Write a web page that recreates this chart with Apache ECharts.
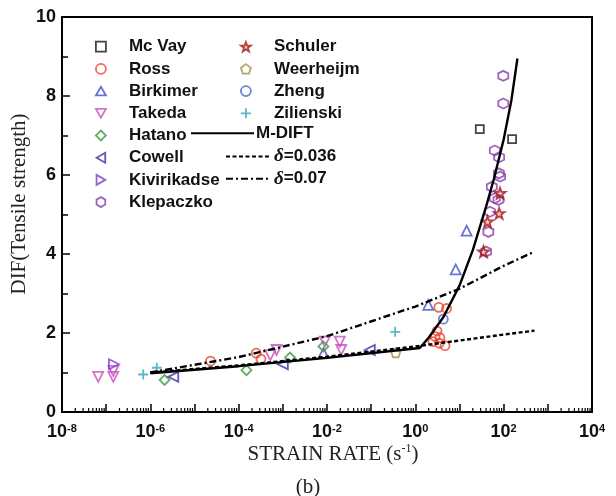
<!DOCTYPE html>
<html>
<head>
<meta charset="utf-8">
<script src="https://cdn.jsdelivr.net/npm/echarts@6/dist/echarts.min.js"></script>
<style>
  html, body { margin: 0; padding: 0; background: #ffffff; }
  #chart { width: 616px; height: 496px; }
</style>
</head>
<body>
<div id="chart"></div>
<script>
// Dynamic increase factor of tensile strength versus strain rate (s^-1)

// --- test data: strain rate (1/s) and DIF ---
const mcVayRate = [28.8, 155];
const mcVayDif = [7.16, 6.91];

const rossRate = [2.3e-5, 2.5e-4, 3.2e-4, 3.4, 5.1, 3.1, 2.8, 3.6, 2.5, 3.5, 4.7];
const rossDif = [1.29, 1.49, 1.34, 2.65, 2.62, 2.05, 1.91, 1.88, 1.78, 1.74, 1.68];

const birkimerRate = [14.5, 8.2, 1.96, 8.3e-3];
const birkimerDif = [4.59, 3.61, 2.71, 1.49];

const takedaRate = [6.6e-8, 1.45e-7, 1.45e-7, 7.2e-4, 5.2e-4, 8.9e-3, 1.95e-2, 2.1e-2];
const takedaDif = [0.89, 0.89, 1.04, 1.57, 1.44, 1.78, 1.78, 1.57];

const hatanoRate = [2.1e-6, 1.5e-4, 1.45e-3, 8.3e-3];
const hatanoDif = [0.81, 1.06, 1.38, 1.66];

const cowellRate = [3.3e-6, 1.0e-3, 9.3e-2];
const cowellDif = [0.89, 1.21, 1.57];

const kivirikadseRate = [1.5e-7];
const kivirikadseDif = [1.21];

const klepaczkoRate = [98, 98, 63, 79, 78, 83, 54, 63, 49, 76, 45, 40];
const klepaczkoDif = [8.51, 7.81, 6.62, 6.45, 6.04, 5.96, 5.70, 5.41, 5.07, 5.37, 4.56, 4.06];

const schulerRate = [83, 79, 43, 35];
const schulerDif = [5.54, 5.03, 4.82, 4.06];

const weerheijmRate = [0.36];
const weerheijmDif = [1.50];

const zhengRate = [4.3];
const zhengDif = [2.35];

const zilienskiRate = [6.9e-7, 1.4e-6, 0.35];
const zilienskiDif = [0.95, 1.12, 2.03];

// --- model curves ---
const mdiftRate = [1e-6, 1e-4, 1e-2, 1.26, 2, 4.3, 10, 20, 40, 60, 100, 150, 205];
const mdiftDif = [0.98, 1.16, 1.37, 1.62, 1.88, 2.40, 3.20, 4.10, 5.20, 5.90, 6.90, 7.90, 8.95];

const delta036Rate = [1e-6, 1e-4, 1e-2, 1, 100, 500];
const delta036Dif = [1.00, 1.18, 1.40, 1.66, 1.96, 2.06];

const delta07Rate = [1e-6, 1e-4, 1e-2, 1, 10, 100, 500];
const delta07Dif = [1.00, 1.39, 1.92, 2.67, 3.12, 3.70, 4.06];

// --- axis ticks ---
const xLabelExponents = [-8, -6, -4, -2, 0, 2, 4];
const yTickLabels = ['0', '2', '4', '6', '8', '10'];

const SANS = '"Liberation Sans", Arial, sans-serif';
const SERIF = '"Liberation Serif", "Times New Roman", serif';

function pairs(xs, ys) { return xs.map((x, i) => [x, ys[i]]); }

// log-distributed minor ticks (2..9 within each decade) on the strain-rate axis
const minorTickValues = [];
for (let e = -8; e < 4; e++) {
  for (let m = 2; m <= 9; m++) minorTickValues.push([m * Math.pow(10, e), 0]);
}

// marker outlines
const TRI_UP = 'path://M0,-8.66 L10,8.66 L-10,8.66 Z';
const TRI_DOWN = 'path://M-10,-8.66 L10,-8.66 L0,8.66 Z';
const TRI_LEFT = 'path://M-8.66,0 L8.66,-10 L8.66,10 Z';
const TRI_RIGHT = 'path://M8.66,0 L-8.66,-10 L-8.66,10 Z';
const HEX = 'path://M0,-10 L8.66,-5 L8.66,5 L0,10 L-8.66,5 L-8.66,-5 Z';
const PENT = 'path://M0,-10 L9.51,-3.09 L5.88,8.09 L-5.88,8.09 L-9.51,-3.09 Z';
const STAR = 'path://M0,-10 L2.35,-3.24 L9.51,-3.09 L3.8,1.24 L5.88,8.09 L0,4 L-5.88,8.09 L-3.8,1.24 L-9.51,-3.09 L-2.35,-3.24 Z';
const PLUS = 'path://M0,-10 L0,10 M-10,0 L10,0';

function scatter(name, xs, ys, color, symbol, opts) {
  opts = opts || {};
  return {
    name: name,
    type: 'scatter',
    data: pairs(xs, ys),
    symbol: symbol,
    symbolSize: opts.size || 9,
    itemStyle: {
      color: opts.fill || 'transparent',
      borderColor: color,
      borderWidth: opts.bw || 1.8
    },
    z: 3
  };
}

function curve(name, xs, ys, type, width) {
  return {
    name: name,
    type: 'line',
    data: pairs(xs, ys),
    symbol: 'none',
    smooth: false,
    lineStyle: { color: '#000', width: width, type: type },
    itemStyle: { color: 'transparent', borderColor: 'transparent', borderWidth: 0, opacity: 0 },
    z: 5
  };
}

const series = [
  scatter('Mc Vay', mcVayRate, mcVayDif, '#151515', 'rect', { size: 8 }),
  scatter('Ross', rossRate, rossDif, '#e8452c', 'circle'),
  scatter('Birkimer', birkimerRate, birkimerDif, '#4454c6', TRI_UP, { size: 10 }),
  scatter('Takeda', takedaRate, takedaDif, '#c94dbd', TRI_DOWN, { size: 10 }),
  scatter('Hatano', hatanoRate, hatanoDif, '#3d9b3d', 'diamond', { size: 10 }),
  scatter('Cowell', cowellRate, cowellDif, '#3a2fa6', TRI_LEFT, { size: 10 }),
  scatter('Kivirikadse', kivirikadseRate, kivirikadseDif, '#7a40c8', TRI_RIGHT, { size: 10 }),
  scatter('Klepaczko', klepaczkoRate, klepaczkoDif, '#8a3fae', HEX, { size: 10 }),
  scatter('Schuler', schulerRate, schulerDif, '#a3161a', STAR, { size: 11, fill: 'rgba(200,70,40,0.35)' }),
  scatter('Weerheijm', weerheijmRate, weerheijmDif, '#a09048', PENT, { size: 9 }),
  scatter('Zheng', zhengRate, zhengDif, '#4a62c8', 'circle', { size: 9 }),
  scatter('Zilienski', zilienskiRate, zilienskiDif, '#2fa8b8', PLUS, { size: 10 }),
  curve('M-DIFT', mdiftRate, mdiftDif, 'solid', 2.4),
  curve('δ=0.036', delta036Rate, delta036Dif, [4, 2.5], 2.4),
  curve('δ=0.07', delta07Rate, delta07Dif, [7, 3, 2, 3], 2.4),
  {
    name: 'minor ticks',
    type: 'custom',
    data: minorTickValues,
    silent: true,
    clip: false,
    z: 6,
    renderItem: function (params, api) {
      const p = api.coord([api.value(0), 0]);
      return {
        type: 'line',
        shape: { x1: p[0], y1: p[1], x2: p[0], y2: p[1] - 4 },
        style: { stroke: '#000', lineWidth: 1.2 }
      };
    }
  }
];

const legendText = {
  color: '#111',
  fontFamily: SANS,
  fontWeight: 'bold',
  fontSize: 17,
  lineHeight: 22,
  padding: [0, 0, 0, 18]
};

const chart = echarts.init(document.getElementById('chart'), null, { renderer: 'canvas' });
chart.setOption({
  animation: false,
  backgroundColor: '#ffffff',
  grid: {
    left: 62, right: 24, top: 17, bottom: 84,
    show: true, borderColor: '#000', borderWidth: 2, backgroundColor: 'transparent'
  },
  title: {
    text: '(b)', left: 'center', top: 472,
    textStyle: { fontFamily: SERIF, fontSize: 21, fontWeight: 'normal', color: '#222' }
  },
  legend: [
    {
      data: ['Mc Vay', 'Ross', 'Birkimer', 'Takeda', 'Hatano', 'Cowell', 'Kivirikadse', 'Klepaczko'],
      orient: 'vertical', left: 95, top: 35.7, padding: 0, itemGap: 0.2,
      itemWidth: 10, itemHeight: 10, selectedMode: false,
      itemStyle: { borderWidth: 1.8 },
      textStyle: legendText
    },
    {
      data: ['Schuler', 'Weerheijm', 'Zheng', 'Zilienski'],
      orient: 'vertical', left: 240, top: 35.7, padding: 0, itemGap: 0.2,
      itemWidth: 10, itemHeight: 10, selectedMode: false,
      itemStyle: { borderWidth: 1.8 },
      textStyle: legendText
    },
    {
      data: ['M-DIFT'],
      orient: 'vertical', left: 190, top: 122.3, padding: 0, itemGap: 0.2,
      itemWidth: 63, itemHeight: 14, selectedMode: false,
      itemStyle: { opacity: 0, borderWidth: 0 },
      lineStyle: { color: '#000', opacity: 1 },
      textStyle: Object.assign({}, legendText, { padding: [0, 0, 0, -3] })
    },
    {
      data: ['δ=0.036', 'δ=0.07'],
      orient: 'vertical', left: 225, top: 145.5, padding: 0, itemGap: 0.2,
      itemWidth: 43, itemHeight: 14, selectedMode: false,
      itemStyle: { opacity: 0, borderWidth: 0 },
      lineStyle: { color: '#000', opacity: 1 },
      formatter: function (name) { return '{i|δ}' + name.slice(1); },
      textStyle: Object.assign({}, legendText, {
        padding: [0, 0, 0, 0],
        rich: {
          i: { fontFamily: SERIF, fontStyle: 'italic', fontWeight: 'bold', fontSize: 19, color: '#111', lineHeight: 22 }
        }
      })
    }
  ],
  xAxis: {
    type: 'log',
    logBase: 10,
    min: 1e-8,
    max: 1e4,
    splitNumber: 12,
    interval: 1,
    axisLine: { show: true, lineStyle: { color: '#000', width: 2 } },
    axisTick: { show: true, inside: true, length: 8, lineStyle: { color: '#000', width: 1.5 } },
    minorTick: { show: false },
    splitLine: { show: false },
    axisLabel: {
      margin: 11,
      showMinLabel: true,
      showMaxLabel: true,
      formatter: function (v) {
        const e = Math.round(Math.log10(v));
        if (xLabelExponents.indexOf(e) < 0) return '';
        return '{b|10}{s|' + e + '}';
      },
      rich: {
        b: { fontFamily: SANS, fontWeight: 'bold', fontSize: 18, color: '#111', lineHeight: 18 },
        s: { fontFamily: SANS, fontWeight: 'bold', fontSize: 11, color: '#111', verticalAlign: 'top', lineHeight: 18, padding: [0, 0, 6, 0] }
      }
    }
  },
  yAxis: {
    type: 'value',
    min: 0,
    max: 10,
    interval: 2,
    axisLine: { show: true, lineStyle: { color: '#000', width: 2 } },
    axisTick: { show: true, inside: true, length: 8, lineStyle: { color: '#000', width: 1.5 } },
    minorTick: { show: true, splitNumber: 2, length: 6, lineStyle: { color: '#000', width: 1.5 } },
    splitLine: { show: false },
    axisLabel: {
      margin: 6,
      fontFamily: SANS, fontWeight: 'bold', fontSize: 18, color: '#111',
      formatter: function (v) { return yTickLabels[Math.round(v / 2)]; }
    }
  },
  graphic: [
    {
      type: 'text',
      x: 19, y: 204, rotation: Math.PI / 2,
      style: {
        text: 'DIF(Tensile strength)',
        font: '21px ' + SERIF,
        fill: '#222',
        textAlign: 'center',
        textVerticalAlign: 'middle'
      }
    },
    {
      type: 'text',
      x: 333, y: 454,
      style: {
        text: '{a|STRAIN RATE (s}{s|-1}{a|)}',
        rich: {
          a: { fontFamily: SERIF, fontSize: 21, fill: '#222', lineHeight: 22 },
          s: { fontFamily: SERIF, fontSize: 12, fill: '#222', verticalAlign: 'top', lineHeight: 22 }
        },
        textAlign: 'center',
        textVerticalAlign: 'middle'
      }
    }
  ],
  series: series
});
</script>
</body>
</html>
